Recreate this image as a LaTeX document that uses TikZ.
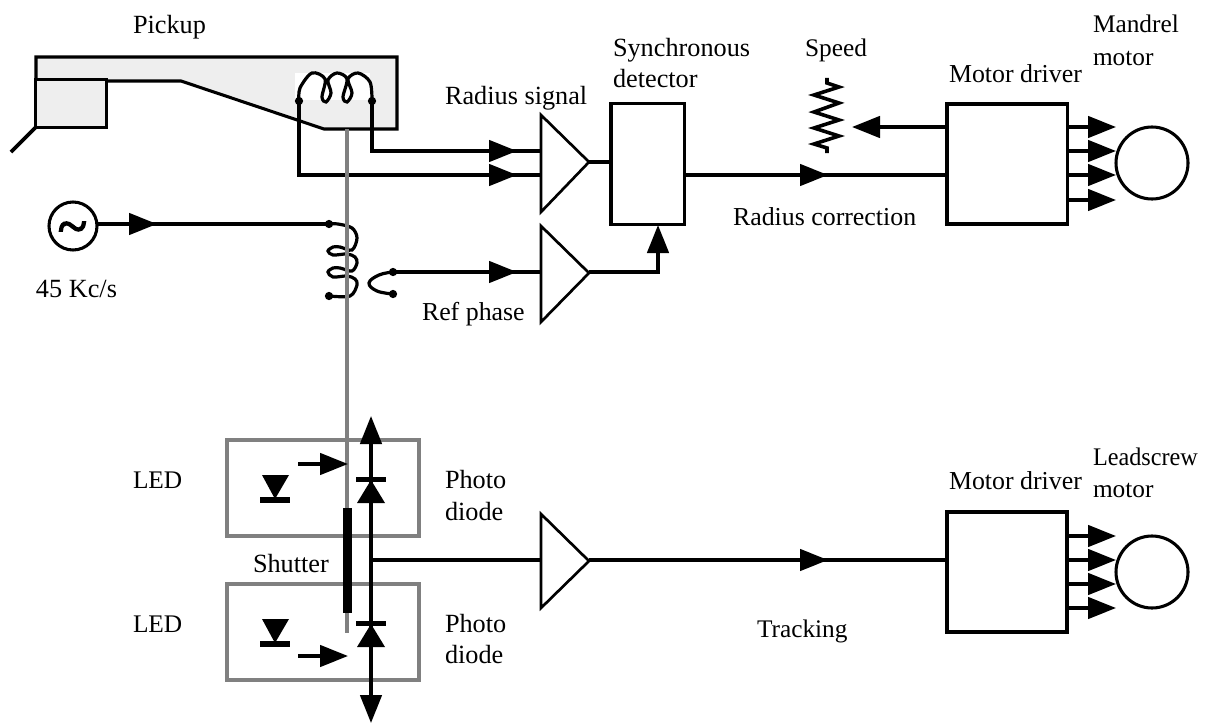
\documentclass[tikz,border=0pt]{standalone}
\usepackage{fontspec}
\setmainfont{Liberation Serif}
\newfontfamily\tildefont[FakeBold=3]{Liberation Serif}
\usetikzlibrary{arrows.meta}
\definecolor{bodygray}{HTML}{EEEEEE}
\definecolor{framegray}{HTML}{808080}
\tikzset{
  x=0.75pt,y=-0.75pt,
  wire/.style={line width=2.7pt,black},
  thinwire/.style={line width=2.4pt,black},
  arrowwire/.style={wire,-{Triangle[length=21pt,width=16pt]}},
  block/.style={draw=black,line width=2.3pt,fill=white},
  amp/.style={draw=black,line width=2pt,fill=white,line join=miter},
  framebox/.style={draw=framegray,line width=2.3pt},
  rod/.style={draw=framegray,line width=2.7pt},
  lab/.style={anchor=base west,inner sep=0pt,outer sep=0pt,font=\fontsize{19}{22}\selectfont},
  labw/.style={lab,font=\fontsize{19.7}{22}\selectfont},
  labm/.style={lab,font=\fontsize{19.4}{22}\selectfont},
  solder/.style={circle,fill=black,inner sep=0pt,minimum size=6.2pt},
  barmark/.style={fill=black},
  round/.style={circle,draw=black,line width=2.3pt,fill=white,inner sep=0pt}
}
\begin{document}
\begin{tikzpicture}
\useasboundingbox (0,0) rectangle (1205,724);

% pickup body
\draw[fill=bodygray,draw=black,line width=2.3pt,line join=miter] (36,79) -- (36,57) -- (397,57) -- (397,129) -- (324,129) -- (181,81) -- (107,81);
\node[block,fill=bodygray,minimum width=53pt,minimum height=36pt,inner sep=0pt,outer sep=0pt,anchor=north west] (head) at (35.5,79.5) {};
\coordinate (stylusEnd) at (11,152);
\draw[wire] (head.south west) -- (stylusEnd);
\fill[white] (295,73) rectangle (370,100);

% pickup coil
\node[solder] (cL) at (299,101) {};
\node[solder] (cR) at (372,101) {};
\draw[thinwire] plot[smooth,tension=.55] coordinates {(299,101) (300,88) (312,73) (325,79) (322,97) (326,102) (331,93) (328,80) (337,73) (347,79) (343,97) (347,102) (352,93) (348,79) (358,73) (370,82) (372,101)};

% amplifiers
\draw[amp] (541,115) -- (589,162) -- (541,212) -- cycle;
\draw[amp] (541,226) -- (589,273) -- (541,322) -- cycle;
\draw[amp] (541,514) -- (589,561) -- (541,608) -- cycle;
\coordinate (a1i) at (541,151);
\coordinate (a1j) at (541,175);
\coordinate (a1o) at (589,162);
\coordinate (a2i) at (541,272);
\coordinate (a2o) at (589,272);
\coordinate (a3i) at (541,560);
\coordinate (a3o) at (589,560);

% boxes
\node[block,minimum width=55pt,minimum height=90.5pt,inner sep=0pt,outer sep=0pt,anchor=north west] (det) at (611,103.5) {};
\node[block,minimum width=90.5pt,minimum height=90pt,inner sep=0pt,outer sep=0pt,anchor=north west] (drv1) at (947,104) {};
\node[block,minimum width=90pt,minimum height=90pt,inner sep=0pt,outer sep=0pt,anchor=north west] (drv2) at (947,512) {};
\node[round,minimum size=54pt] (mot1) at (1152,163) {};
\node[round,minimum size=54pt] (mot2) at (1152,572) {};

% pickup wires
\coordinate (w1) at (372,151);
\coordinate (w2) at (299,175);
\coordinate (t1) at (517,151);
\coordinate (t2) at (517,175);
\draw[wire,line join=miter] (cR.center) -- (w1) -- (a1i);
\draw[wire,line join=miter] (cL.center) -- (w2) -- (a1j);
\draw[arrowwire] (w1) -- (t1);
\draw[arrowwire] (w2) -- (t2);
\coordinate (dI) at (611,162);
\draw[wire] (a1o) -- (dI);

% detector output to driver
\coordinate (dO) at (684,175);
\coordinate (dT) at (828,175);
\coordinate (dD) at (947,175);
\draw[wire] (dO) -- (dD);
\draw[arrowwire] (dO) -- (dT);

% speed
\coordinate (sS) at (947,127);
\coordinate (sT) at (852,127);
\draw[arrowwire] (sS) -- (sT);
\coordinate (rTop) at (827,78);
\coordinate (rBot) at (827,153);
\draw[wire,line join=miter] (rTop) -- (827,83) -- (839,87) -- (814,95) -- (839,103) -- (814,112) -- (839,120) -- (814,128) -- (839,136) -- (814,144) -- (827,148) -- (rBot);

% motor drive arrows
\foreach \y [count=\i] in {127,151,175,200}{
  \coordinate (m1s\i) at (1068,\y);
  \coordinate (m1t\i) at (1116,\y);
  \draw[arrowwire] (m1s\i) -- (m1t\i);
}
\foreach \y [count=\i] in {536,560,584,608}{
  \coordinate (m2s\i) at (1067,\y);
  \coordinate (m2t\i) at (1116,\y);
  \draw[arrowwire] (m2s\i) -- (m2t\i);
}

% source
\node[round,minimum size=36pt] (src) at (73,226) {};
\node[inner sep=0pt] (tilde) at (72.5,233) {\fontsize{40}{40}\tildefont\selectfont\char`~};
\node[solder] (pTop) at (329,224) {};
\node[solder] (pBot) at (329,296) {};
\coordinate (srcOut) at (97,224);
\coordinate (srcT) at (157,224);
\draw[wire] (srcOut) -- (pTop.center);
\draw[arrowwire] (srcOut) -- (srcT);

% transformer
\draw[thinwire] plot[smooth,tension=.55] coordinates {(329,224) (338,224) (352,228) (357,238) (352,250) (340,247) (333,247) (328,251) (333,255) (347,254) (355,257) (357,263) (352,271) (340,268) (333,268) (328,272) (333,277) (347,276) (355,279) (357,285) (350,296) (329,296)};
\node[solder] (sTop) at (393,272) {};
\node[solder] (sBot) at (393,294) {};
\draw[thinwire] plot[smooth,tension=.7] coordinates {(393,272) (379,275) (369,283) (377,291) (393,294)};
\coordinate (t3) at (517,272);
\draw[wire] (sTop.center) -- (a2i);
\draw[arrowwire] (sTop.center) -- (t3);

% reference to detector
\coordinate (rfC) at (658,272);
\coordinate (rfT) at (658,225);
\draw[wire] (a2o) -- (rfC);
\draw[arrowwire,line join=miter] (a2o) -- (rfC) -- (rfT);

% gray rod
\coordinate (rodT) at (347,129);
\coordinate (rodB) at (347,633);
\draw[rod] (rodT) -- (rodB);

% optical boxes
\node[framebox,minimum width=144pt,minimum height=72pt,inner sep=0pt,outer sep=0pt,anchor=north west] (opt1) at (227,440) {};
\node[framebox,minimum width=144pt,minimum height=72pt,inner sep=0pt,outer sep=0pt,anchor=north west] (opt2) at (227,584) {};

% shutter
\fill[barmark] (343,508) rectangle (352,613);

% photodiode rail
\coordinate (pdM) at (371,560);
\coordinate (pdT) at (371,416);
\coordinate (pdB) at (371,723);
\draw[arrowwire] (pdM) -- (pdT);
\draw[arrowwire] (pdM) -- (pdB);
\draw[wire] (pdM) -- (a3i);
\coordinate (a3t) at (828,560);
\draw[wire] (a3o) -- (drv2.west |- a3o);
\draw[arrowwire] (a3o) -- (a3t);
\fill[barmark] (356,476.5) rectangle (386,482);
\fill[barmark] (371,480) -- (385,503) -- (357,503) -- cycle;
\fill[barmark] (356,620.5) rectangle (386,626);
\fill[barmark] (371,624) -- (385,647) -- (357,647) -- cycle;

% LEDs
\fill[barmark] (260,497) rectangle (290,503);
\fill[barmark] (262,475) -- (289,475) -- (275,499) -- cycle;
\fill[barmark] (260,641) rectangle (290,647);
\fill[barmark] (262,619) -- (289,619) -- (275,643) -- cycle;
\coordinate (l1s) at (298,464);
\coordinate (l1t) at (348,464);
\coordinate (l2s) at (298,656);
\coordinate (l2t) at (348,656);
\draw[arrowwire] (l1s) -- (l1t);
\draw[arrowwire] (l2s) -- (l2t);

% labels
\node[labw] (tPickup) at (133,34) {Pickup};
\node[labw] (tRadius) at (445,104) {Radius signal};
\node[labw] (tSync) at (613,57) {Synchronous};
\node[labw] (tDet) at (613,88) {detector};
\node[lab] (tSpeed) at (805,57) {Speed};
\node[labm] (tDrv1) at (949,82) {Motor driver};
\node[lab] (tMan) at (1093,33) {Mandrel};
\node[lab] (tMot1) at (1093,65) {motor};
\node[labm] (tCorr) at (733,225) {Radius correction};
\node[labw] (tKc) at (36,297) {45 Kc/s};
\node[labm] (tRef) at (422,320) {Ref phase};
\node[lab] (tLed1) at (133,488) {LED};
\node[labw] (tPh1) at (445,488) {Photo};
\node[labw] (tDi1) at (445,520) {diode};
\node[labw] (tShut) at (253,572) {Shutter};
\node[lab] (tLed2) at (133,632) {LED};
\node[labw] (tPh2) at (445,632) {Photo};
\node[labw] (tDi2) at (445,663) {diode};
\node[labm] (tDrv2) at (949,489) {Motor driver};
\node[lab] (tLead) at (1093,465) {\scalebox{.955}[1]{Leadscrew}};
\node[lab] (tMot2) at (1093,497) {motor};
\node[lab] (tTrack) at (757,637) {Tracking};
\end{tikzpicture}
\end{document}
